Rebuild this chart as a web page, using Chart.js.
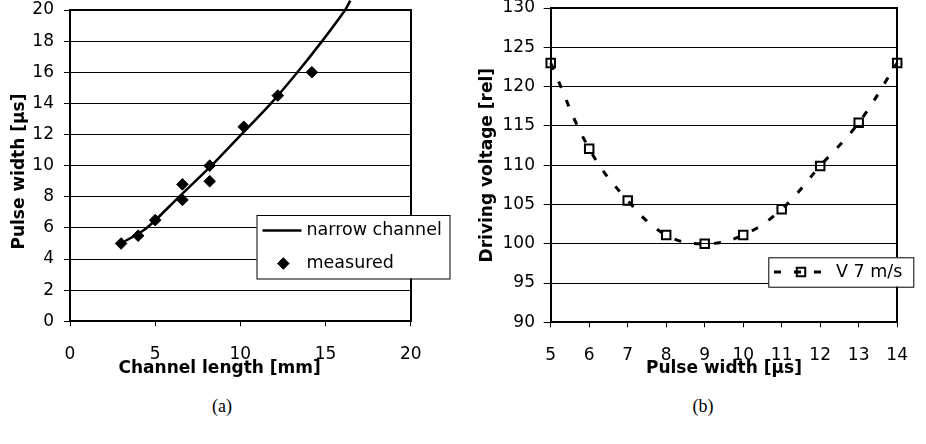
<!DOCTYPE html>
<html>
<head>
<meta charset="utf-8">
<script src="https://cdn.jsdelivr.net/npm/chart.js@4.4.1/dist/chart.umd.min.js"></script>
<style>
    body { margin: 0; background: #fff; width: 926px; height: 444px; position: relative; overflow: hidden; }
    .panel { position: absolute; top: 0; height: 380px; }
    #wrapA { left: 0; width: 460px; }
    #wrapB { left: 460px; width: 466px; }
    .cap { position: absolute; top: 396px; width: 80px; text-align: center; font-family: "Liberation Serif", serif; font-size: 18px; color: #000; }
</style>
</head>
<body>
<div class="panel" id="wrapA"><canvas id="chartA" width="460" height="380"></canvas></div>
<div class="panel" id="wrapB"><canvas id="chartB" width="466" height="380"></canvas></div>
<div class="cap" style="left:182px">(a)</div>
<div class="cap" style="left:663px">(b)</div>
<script>
// (a) measured points
const channelLength = [3, 4, 5, 6.6, 6.6, 8.2, 8.2, 10.2, 12.2, 14.2];
const pulseMeasured = [5, 5.5, 6.5, 7.8, 8.8, 9, 10, 12.5, 14.5, 16];
// (a) narrow channel curve
const curveLength = [3, 4.5, 6.4, 8.3, 10.05, 11.8, 13.35, 14.8, 16.15, 16.45];
const curvePulse = [5, 6, 8, 10, 12, 14, 16, 18, 20, 20.6];
const xTicksA = [0, 5, 10, 15, 20];
const yTicksA = [0, 2, 4, 6, 8, 10, 12, 14, 16, 18, 20];

// (b) driving voltage vs pulse width
const pulseWidth = [5, 6, 7, 8, 9, 10, 11, 12, 13, 14];
const voltage7 = [123, 112.1, 105.5, 101.1, 100, 101.1, 104.4, 109.9, 115.4, 123];
const xTicksB = [5, 6, 7, 8, 9, 10, 11, 12, 13, 14];
const yTicksB = [90, 95, 100, 105, 110, 115, 120, 125, 130];

const FONT = 'DejaVu Sans';

function pts(xs, ys) {
    return xs.map((x, i) => ({ x: x, y: ys[i] }));
}

function drawMarker(ctx, style, x, y, r) {
    ctx.beginPath();
    if (style === 'rectRot') {
        ctx.moveTo(x, y - r); ctx.lineTo(x + r, y); ctx.lineTo(x, y + r); ctx.lineTo(x - r, y);
    } else {
        const s = r * Math.SQRT1_2;
        ctx.rect(x - s, y - s, 2 * s, 2 * s);
    }
    ctx.closePath();
}

// frame round the plot area
const plotFrame = {
    id: 'plotFrame',
    beforeDatasetsDraw(chart) {
        const a = chart.chartArea, ctx = chart.ctx;
        ctx.save();
        ctx.strokeStyle = '#000';
        ctx.lineWidth = 2;
        ctx.strokeRect(Math.round(a.left), Math.round(a.top), Math.round(a.right - a.left), Math.round(a.bottom - a.top));
        ctx.restore();
    }
};

// boxed legend like the original (drawn from the datasets)
const boxLegend = {
    id: 'boxLegend',
    afterDraw(chart, args, opts) {
        const ctx = chart.ctx;
        const b = opts.box;
        ctx.save();
        ctx.fillStyle = '#fff';
        ctx.fillRect(b[0], b[1], b[2], b[3]);
        ctx.strokeStyle = '#000';
        ctx.lineWidth = 1;
        ctx.strokeRect(b[0] + 0.5, b[1] + 0.5, b[2], b[3]);
        ctx.font = '17.5px "' + FONT + '"';
        ctx.textBaseline = 'middle';
        chart.data.datasets.forEach((ds, i) => {
            const row = opts.rows[i];
            ctx.strokeStyle = '#000';
            if (ds.showLine) {
                ctx.lineWidth = ds.borderWidth;
                ctx.setLineDash(ds.borderDash || []);
                ctx.beginPath();
                ctx.moveTo(row.x0, row.y);
                ctx.lineTo(row.x1, row.y);
                ctx.stroke();
                ctx.setLineDash([]);
            }
            if (ds.pointRadius > 0) {
                drawMarker(ctx, ds.pointStyle, row.mx, row.y, ds.pointRadius);
                ctx.fillStyle = ds.pointBackgroundColor;
                ctx.fill();
                if (ds.pointBorderWidth) {
                    ctx.lineWidth = ds.pointBorderWidth;
                    ctx.stroke();
                }
            }
            ctx.fillStyle = '#000';
            ctx.fillText(ds.label, opts.textX, row.y);
        });
        ctx.restore();
    }
};

function axisX(ticks, min, max, title, height) {
    return {
        type: 'linear', min: min, max: max,
        afterBuildTicks: s => { s.ticks = ticks.map(v => ({ value: v })); },
        afterFit: s => { s.height = height; },
        grid: { drawOnChartArea: false, drawTicks: true, tickLength: 5, color: '#000', lineWidth: 1 },
        border: { display: false },
        ticks: { color: '#000', font: { family: FONT, size: 17 }, padding: 18, maxRotation: 0, autoSkip: false },
        title: { display: true, text: title, color: '#000', font: { family: FONT, size: 17, weight: 'bold' }, padding: { top: 0, bottom: 1 } }
    };
}

function axisY(ticks, min, max, title, width, tickLen, pad, titlePad) {
    return {
        type: 'linear', min: min, max: max,
        afterBuildTicks: s => { s.ticks = ticks.map(v => ({ value: v })); },
        // keep the plot box where the original has it
        afterFit: s => { s.width = width; s.paddingTop = 0; s.paddingBottom = 0; },
        grid: { drawTicks: true, tickLength: tickLen, color: '#000', lineWidth: 1 },
        border: { display: false },
        ticks: { color: '#000', font: { family: FONT, size: 17 }, padding: pad, autoSkip: false },
        title: { display: true, text: title, color: '#000', font: { family: FONT, size: 17, weight: 'bold' }, padding: { top: titlePad, bottom: 0 } }
    };
}

new Chart(document.getElementById('chartA'), {
    type: 'scatter',
    data: {
        datasets: [{
            label: 'narrow channel',
            data: pts(curveLength, curvePulse),
            showLine: true,
            borderColor: '#000',
            borderWidth: 2.5,
            pointRadius: 0,
            tension: 0.3,
            clip: false
        }, {
            label: 'measured',
            data: pts(channelLength, pulseMeasured),
            pointStyle: 'rectRot',
            pointRadius: 5.8,
            pointBackgroundColor: '#000',
            pointBorderColor: '#000',
            pointBorderWidth: 1,
            clip: false
        }]
    },
    options: {
        responsive: false,
        animation: false,
        devicePixelRatio: 1,
        layout: { padding: { top: 10, right: 49.3, left: 0, bottom: 0 } },
        scales: {
            x: axisX(xTicksA, 0, 20, 'Channel length [mm]       ', 58.7),
            y: axisY(yTicksA, 0, 20, 'Pulse width [µs]  ', 70, 6, 10, 9)
        },
        plugins: {
            legend: { display: false },
            tooltip: { enabled: false },
            boxLegend: {
                box: [256.5, 215, 193, 63.5],
                textX: 306.5,
                rows: [{ y: 230.5, x0: 262.5, x1: 301.5, mx: 282 }, { y: 263.5, x0: 262.5, x1: 301.5, mx: 283.3 }]
            }
        }
    },
    plugins: [plotFrame, boxLegend]
});

new Chart(document.getElementById('chartB'), {
    type: 'scatter',
    data: {
        datasets: [{
            label: 'V 7 m/s',
            data: pts(pulseWidth, voltage7),
            showLine: true,
            borderColor: '#000',
            borderWidth: 3,
            borderDash: [7, 13],
            tension: 0.4,
            pointStyle: 'rect',
            pointRadius: 6,
            pointBackgroundColor: 'rgba(0,0,0,0)',
            pointBorderColor: '#000',
            pointBorderWidth: 2,
            clip: false
        }]
    },
    options: {
        responsive: false,
        animation: false,
        devicePixelRatio: 1,
        layout: { padding: { top: 7.3, right: 12.7, left: 0, bottom: 0 } },
        scales: {
            x: axisX(xTicksB, 5, 14, 'Pulse width [µs]', 57.7),
            y: axisY(yTicksB, 90, 130, 'Driving voltage [rel]', 90.7, 7, 8.7, 17.8)
        },
        plugins: {
            legend: { display: false },
            tooltip: { enabled: false },
            boxLegend: {
                box: [308.3, 257.3, 145, 29.4],
                textX: 376,
                rows: [{ y: 272, x0: 314, x1: 361, mx: 341 }]
            }
        }
    },
    plugins: [plotFrame, boxLegend]
});
</script>
</body>
</html>
